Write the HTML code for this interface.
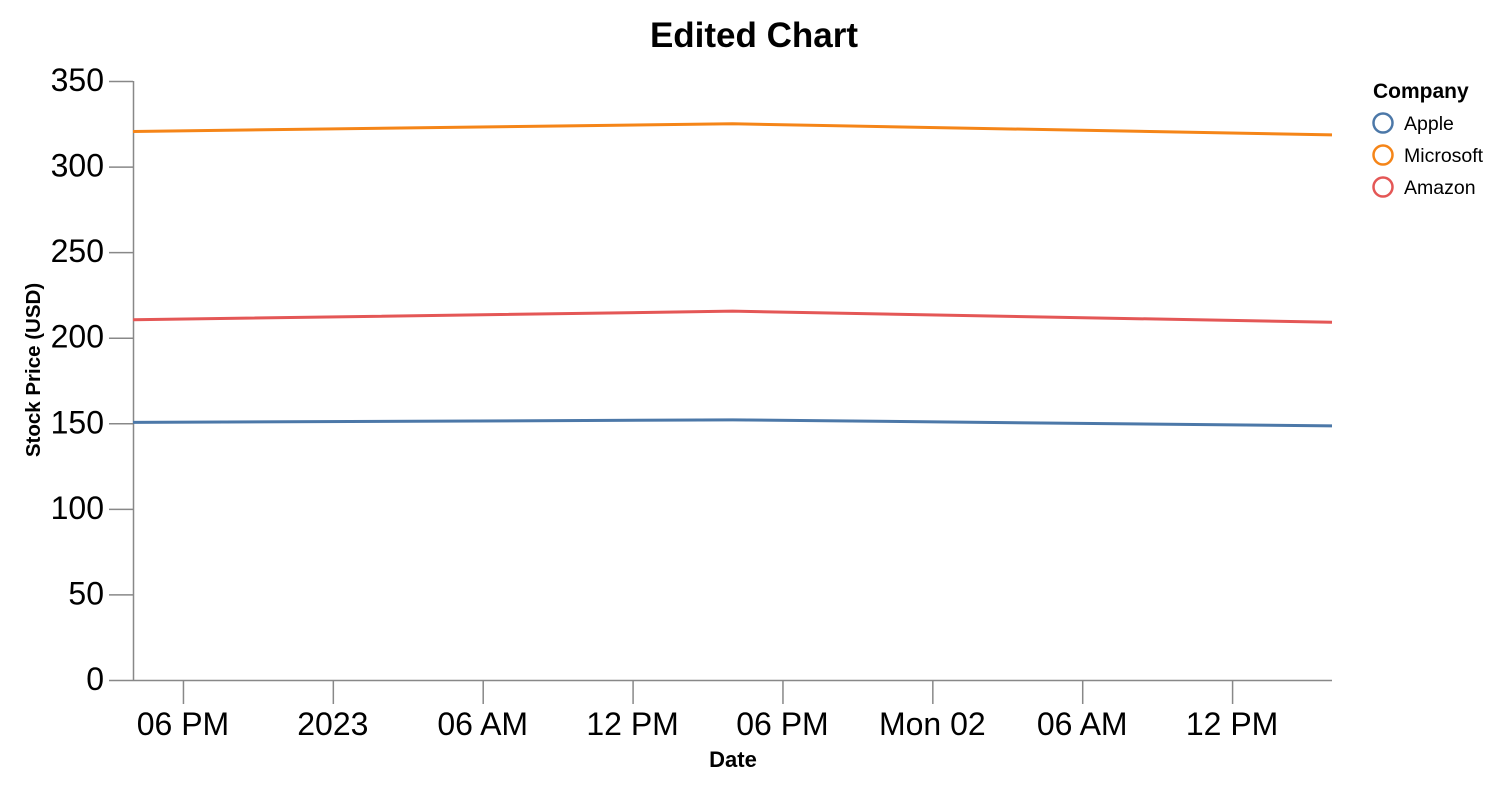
<!DOCTYPE html>
<html><head><meta charset="utf-8"><style>
body{margin:0;background:#fff;}
svg{display:block;font-family:"Liberation Sans",Arial,sans-serif;}
</style></head><body>
<svg id="chart" width="1506" height="790">
<text x="754" y="47" text-anchor="middle" font-size="35" font-weight="bold" fill="#000">Edited Chart</text>
<g id="yaxis"></g>
<g id="xaxis"></g>
<g id="lines"></g>
<text transform="translate(40,370) rotate(-90)" text-anchor="middle" font-size="20.5" font-weight="bold">Stock Price (USD)</text>
<text x="733" y="767" text-anchor="middle" font-size="22" font-weight="bold">Date</text>
<g id="legend">
<text x="1373" y="98" font-size="21" font-weight="bold">Company</text>
</g>
</svg>
<script>
const companies=["Apple","Microsoft","Amazon"];
const colors=["#4c78a8","#f58518","#e45756"];
const dates=[0,24,48]; // hours from Dec 31 16:00
const appleValues=[150.5,152,148.5];
const microsoftValues=[320.5,325,318.5];
const amazonValues=[210.5,215.5,209];
const yTicks=[0,50,100,150,200,250,300,350];
const xTickHours=[2,8,14,20,26,32,38,44];
const xTickLabels=["06 PM","2023","06 AM","12 PM","06 PM","Mon 02","06 AM","12 PM"];
const series=[appleValues,microsoftValues,amazonValues];
const NS="http://www.w3.org/2000/svg";
const x0=133,x1=1332,y0=680,y1=81;
const xs=h=>x0+(x1-x0)*h/48;
const ys=v=>y0-(y0-y1)*v/350;
function mk(t,a,p){const e=document.createElementNS(NS,t);for(const k in a)e.setAttribute(k,a[k]);p.appendChild(e);return e;}
const ya=document.getElementById('yaxis');
mk('line',{x1:x0+0.5,x2:x0+0.5,y1:y1,y2:y0,stroke:'#888','stroke-width':1.5},ya);
yTicks.forEach(v=>{
 const t=mk('line',{x1:x0-24,x2:x0,y1:ys(v)+0.5,y2:ys(v)+0.5,stroke:'#888','stroke-width':1.5},ya);
 
 
 const l=mk('text',{x:x0-29,y:ys(v)+10,'text-anchor':'end','font-size':32},ya);
 l.textContent=v;
 
 
});
const xa=document.getElementById('xaxis');
mk('line',{x1:x0,x2:x1,y1:y0+0.5,y2:y0+0.5,stroke:'#888','stroke-width':1.5},xa);
xTickHours.forEach((h,i)=>{
 const t=mk('line',{x1:xs(h)+0.5,x2:xs(h)+0.5,y1:y0,y2:y0+24,stroke:'#888','stroke-width':1.5},xa);
 
 
 const l=mk('text',{x:xs(h),y:y0+55,'text-anchor':'middle','font-size':32},xa);
 l.textContent=xTickLabels[i];
 
 
});
const lg=document.getElementById('lines');
series.forEach((vals,i)=>{
 const d=vals.map((v,j)=>(j?'L':'M')+xs(dates[j])+','+ys(v)).join(' ');
 const p=mk('path',{d:d,fill:'none',stroke:colors[i],'stroke-width':3,'stroke-linejoin':'round'},lg);
 
 
});
const leg=document.getElementById('legend');
companies.forEach((c,i)=>{
 const y=123+i*32;
 const ci=mk('circle',{cx:1383,cy:y,r:9.5,fill:'none',stroke:colors[i],'stroke-width':2.5},leg);
 
 
 const t=mk('text',{x:1404,y:y+7,'font-size':19.5},leg);
 t.textContent=c;
 
 
});
</script>
</body></html>
